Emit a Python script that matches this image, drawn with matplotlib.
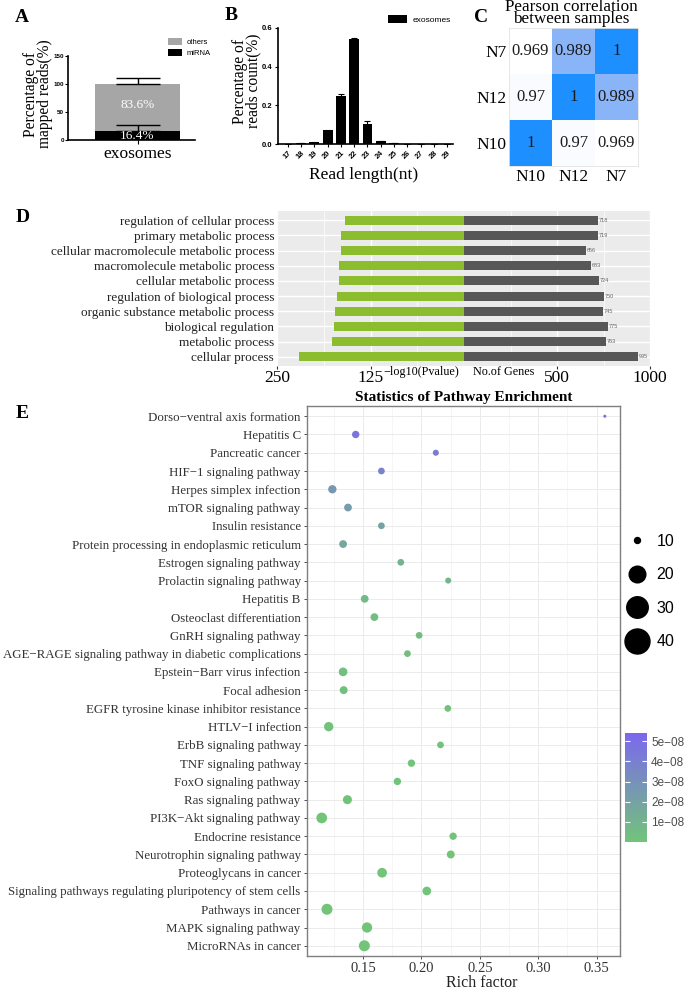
import numpy as np
import matplotlib
matplotlib.use("Agg")
import matplotlib.pyplot as plt
from matplotlib.colors import LinearSegmentedColormap
from matplotlib.lines import Line2D

SERIF = ['Liberation Serif', 'DejaVu Serif']
SANS = ['Liberation Sans', 'DejaVu Sans']

# ---- A: mapped reads
mapped_types = ['miRNA', 'others']
mapped_pct = [16.4, 83.6]
mapped_err = [10.4, 11.0]

# ---- B: read length distribution
read_len = list(range(17, 30))
read_pct = [0.002, 0.005, 0.008, 0.070, 0.250, 0.545, 0.105, 0.015, 0.003,
            0.001, 0.001, 0.0005, 0.0005]
read_err = [0, 0, 0.001, 0.005, 0.010, 0.003, 0.013, 0.002, 0, 0, 0, 0, 0]

# ---- C: pearson correlation
samples = ['N10', 'N12', 'N7']
corr = [[1, 0.97, 0.969],
        [0.97, 1, 0.989],
        [0.969, 0.989, 1]]

# ---- D: GO terms
go_terms = ['regulation of cellular process', 'primary metabolic process',
            'cellular macromolecule metabolic process', 'macromolecule metabolic process',
            'cellular metabolic process', 'regulation of biological process',
            'organic substance metabolic process', 'biological regulation',
            'metabolic process', 'cellular process']
go_logp = [159, 164, 164, 167, 167, 170, 172, 174, 177, 220]
go_genes = [718, 719, 656, 683, 724, 750, 745, 775, 763, 935]

# ---- E: KEGG enrichment
pathways = ['Dorso\u2212ventral axis formation', 'Hepatitis C', 'Pancreatic cancer',
            'HIF\u22121 signaling pathway', 'Herpes simplex infection', 'mTOR signaling pathway',
            'Insulin resistance', 'Protein processing in endoplasmic reticulum',
            'Estrogen signaling pathway', 'Prolactin signaling pathway', 'Hepatitis B',
            'Osteoclast differentiation', 'GnRH signaling pathway',
            'AGE\u2212RAGE signaling pathway in diabetic complications',
            'Epstein\u2212Barr virus infection', 'Focal adhesion',
            'EGFR tyrosine kinase inhibitor resistance', 'HTLV\u2212I infection',
            'ErbB signaling pathway', 'TNF signaling pathway', 'FoxO signaling pathway',
            'Ras signaling pathway', 'PI3K\u2212Akt signaling pathway', 'Endocrine resistance',
            'Neurotrophin signaling pathway', 'Proteoglycans in cancer',
            'Signaling pathways regulating pluripotency of stem cells', 'Pathways in cancer',
            'MAPK signaling pathway', 'MicroRNAs in cancer']
rich = [0.357, 0.1437, 0.2123, 0.1657, 0.1237, 0.1371, 0.1657, 0.1329, 0.1823, 0.2229,
        0.1514, 0.1597, 0.198, 0.188, 0.1329, 0.1334, 0.2226, 0.1206, 0.2163, 0.1914,
        0.1794, 0.1366, 0.1146, 0.2271, 0.2251, 0.1663, 0.2046, 0.1191, 0.1534, 0.1511]
gene_num = [3, 18, 12, 15, 23, 20, 15, 20, 15, 12, 20, 20, 15, 15, 25, 21, 15, 29, 15, 18,
            18, 27, 38, 18, 21, 31, 25, 40, 35, 40]
pvals = [5.4e-08, 4.6e-08, 4.2e-08, 3.9e-08, 2.6e-08, 2.3e-08, 2.0e-08, 1.7e-08, 1.1e-08,
         8.5e-09, 6e-09, 5e-09, 4.5e-09, 4e-09, 3e-09, 2.5e-09, 2e-09, 1.5e-09, 1.2e-09,
         1e-09, 8e-10, 6e-10, 4e-10, 3e-10, 2.5e-10, 2e-10, 1.5e-10, 1.2e-10, 1e-10, 1e-10]
size_breaks = [10, 20, 30, 40]
cbar_ticks = [1e-08, 2e-08, 3e-08, 4e-08, 5e-08]

W, H = 684, 991
fig = plt.figure(figsize=(W / 100, H / 100), dpi=100)


def px_axes(l, t, r, b):
    return fig.add_axes([l / W, 1 - b / H, (r - l) / W, (b - t) / H])


def ftext(x, y, s, **kw):
    kw.setdefault('ha', 'center')
    kw.setdefault('va', 'center')
    return fig.text(x / W, 1 - y / H, s, **kw)


# panel letters
for lab, x, y in [('A', 22, 17), ('B', 231, 15), ('C', 481, 17), ('D', 23, 217), ('E', 22, 414)]:
    ftext(x, y, lab, family=SERIF, fontsize=14, fontweight='bold')

# ================= A
axA = px_axes(68, 56, 195, 140)
colsA = ['black', '#a6a6a6']
bottom = 0
tops = []
for name, v, c in zip(mapped_types, mapped_pct, colsA):
    axA.bar(0, v, bottom=bottom, width=0.8, color=c, label=name, zorder=2)
    frac = 0.45 if name == 'miRNA' else 0.55
    axA.text(0, bottom + v * frac, f'{v}%', ha='center', va='center', color='white',
             family=SERIF, fontsize=9.5, zorder=4)
    bottom += v
    tops.append(bottom)
axA.errorbar([0, 0], tops, yerr=[[0, 0], mapped_err], fmt='none', ecolor='black',
             elinewidth=1, capsize=16, capthick=1, zorder=3)
axA.set_xlim(-0.654, 0.541)
axA.set_ylim(0, 150)
axA.set_yticks([0, 50, 100, 150])
axA.set_xticks([0])
axA.set_xticklabels(['exosomes'], family=SERIF, fontsize=12.5)
for t in axA.get_yticklabels():
    t.set_fontsize(4.5)
    t.set_fontweight('bold')
    t.set_family(SANS)
axA.tick_params(axis='y', length=2, width=0.8, pad=1)
axA.tick_params(axis='x', length=3, width=0.8, pad=1)
for s in ['top', 'right']:
    axA.spines[s].set_visible(False)
for s in ['left', 'bottom']:
    axA.spines[s].set_linewidth(1.2)
hA, lA = axA.get_legend_handles_labels()
axA.legend(hA[::-1], lA[::-1], loc='upper left', bbox_to_anchor=(168 / W, 1 - 38 / H),
           bbox_transform=fig.transFigure, frameon=False, prop={'family': SANS, 'size': 5.5},
           handlelength=1.8, handleheight=1.0, handletextpad=0.6, labelspacing=0.4,
           borderpad=0, borderaxespad=0)
ftext(38, 94, 'Percentage of\nmapped reads(%)', rotation=90, family=SERIF, fontsize=11.2,
      linespacing=0.78)

# ================= B
axB = px_axes(278, 28, 453, 144)
axB.bar(read_len, read_pct, width=0.75, color='black', yerr=read_err, capsize=2.2,
        error_kw=dict(elinewidth=0.8, capthick=0.8), label='exosomes')
axB.set_xlim(16.25, 29.45)
axB.set_ylim(0, 0.6)
axB.set_yticks([0, 0.2, 0.4, 0.6])
axB.set_yticklabels(['0.0', '0.2', '0.4', '0.6'])
axB.set_xticks(read_len)
axB.set_xticklabels([str(v) for v in read_len], rotation=45, ha='right', rotation_mode='anchor')
for t in axB.get_xticklabels() + axB.get_yticklabels():
    t.set_fontsize(5.5)
    t.set_fontweight('bold')
    t.set_family(SANS)
axB.tick_params(length=2.5, width=0.8, pad=1.5)
for s in ['top', 'right']:
    axB.spines[s].set_visible(False)
for s in ['left', 'bottom']:
    axB.spines[s].set_linewidth(1.2)
axB.legend(loc='upper left', bbox_to_anchor=(388 / W, 1 - 15 / H), bbox_transform=fig.transFigure,
           frameon=False, prop={'family': SANS, 'size': 6}, handlelength=2.3, handleheight=1.1,
           handletextpad=0.6, borderpad=0, borderaxespad=0)
ftext(247, 81, 'Percentage of\nreads count(%)', rotation=90, family=SERIF, fontsize=11.2,
      linespacing=0.78)
ftext(364, 175, 'Read length(nt)', family=SERIF, fontsize=12.5)

# ================= C
axC = px_axes(509, 28, 638, 166)
cmapC = LinearSegmentedColormap.from_list(
    'wb', [(0, '#ffffff'), (0.65, '#8ab4f8'), (1, '#1e8fff')])
cvals = np.array(corr)
axC.imshow(cvals, cmap=cmapC, vmin=cvals.min(), vmax=cvals.max(), origin='lower', aspect='auto')
for i in range(len(samples)):
    for j in range(len(samples)):
        axC.text(j, i, f'{corr[i][j]:g}', ha='center', va='center', family=SERIF,
                 fontsize=12, color='#1a1a1a')
axC.set_xticks(range(len(samples)))
axC.set_yticks(range(len(samples)))
axC.set_xticklabels(samples, family=SERIF, fontsize=12.5)
axC.set_yticklabels(samples, family=SERIF, fontsize=12.5)
axC.tick_params(length=0, pad=2)
for s in axC.spines.values():
    s.set_color('#e3e3e3')
    s.set_linewidth(0.6)
ftext(571, 13, 'Pearson correlation\nbetween samples', family=SERIF, fontsize=12.3,
      linespacing=0.72)

# ================= D
axDl = px_axes(277, 211, 464, 366)
axDr = px_axes(464, 211, 650, 366)
yD = np.arange(len(go_terms))
axDl.barh(yD, go_logp, height=0.6, color='#8bbd2e', zorder=2)
axDr.barh(yD, go_genes, height=0.6, color='#575757', zorder=2)
for yy, v in zip(yD, go_genes):
    axDr.text(v + 4, yy, str(v), ha='left', va='center', family=SANS, fontsize=4,
              color='#666666', zorder=3)
axDl.set_xlim(250, 0)
axDr.set_xlim(0, 1000)
axDl.set_xticks([250, 125])
axDl.set_xticks([187.5, 62.5], minor=True)
axDr.set_xticks([500, 1000])
axDr.set_xticks([250, 750], minor=True)
axDl.set_xticklabels(['250', '125'])
axDr.set_xticklabels(['500', '1000'])
for ax in (axDl, axDr):
    ax.set_facecolor('#ebebeb')
    ax.set_ylim(len(go_terms) - 0.4, -0.6)
    ax.set_yticks(yD)
    ax.set_axisbelow(True)
    ax.grid(which='major', color='white', linewidth=1.0)
    ax.grid(which='minor', axis='x', color='white', linewidth=0.5)
    for s in ax.spines.values():
        s.set_visible(False)
    ax.tick_params(axis='x', which='major', length=2, color='#333333', pad=1)
    ax.tick_params(axis='x', which='minor', length=0)
    ax.tick_params(axis='y', length=0, pad=2)
    for t in ax.get_xticklabels():
        t.set_family(SERIF)
        t.set_fontsize(12.5)
axDl.axvline(0, color='white', linewidth=1.0, zorder=1)
axDl.set_yticklabels(go_terms, family=SERIF, fontsize=9.5, color='#222222')
axDr.set_yticklabels([])
ftext(421, 372, '\u2212log10(Pvalue)', family=SERIF, fontsize=8.7)
ftext(504, 372, 'No.of Genes', family=SERIF, fontsize=8.7)

# ================= E
axE = px_axes(307, 406, 620, 956)
yE = np.arange(len(pathways))
cmapE = LinearSegmentedColormap.from_list('gp', ['#72c479', '#7b68ee'])
sc = axE.scatter(rich, yE, s=np.array(gene_num) * 1.57, c=pvals, cmap=cmapE,
                 vmin=min(pvals), vmax=max(pvals), linewidths=0, zorder=3)
axE.set_xlim(0.102, 0.370)
axE.set_ylim(len(pathways) - 0.44, -0.56)
axE.set_xticks([0.15, 0.20, 0.25, 0.30, 0.35])
axE.set_xticklabels(['0.15', '0.20', '0.25', '0.30', '0.35'], family=SERIF, fontsize=10.5,
                    color='#333333')
axE.set_xticks([0.125, 0.175, 0.225, 0.275, 0.325], minor=True)
axE.set_yticks(yE)
axE.set_yticklabels(pathways, family=SERIF, fontsize=9.3, color='#333333')
axE.set_axisbelow(True)
axE.grid(which='major', color='#ebebeb', linewidth=0.7)
axE.grid(which='minor', axis='x', color='#f2f2f2', linewidth=0.5)
axE.tick_params(which='major', length=2.5, width=0.6, color='#333333', pad=2)
axE.tick_params(which='minor', length=0)
for s in axE.spines.values():
    s.set_color('#7f7f7f')
    s.set_linewidth(1.0)
ftext(464, 397, 'Statistics of Pathway Enrichment', family=SERIF, fontsize=11, fontweight='bold')
ftext(482, 983, 'Rich factor', family=SERIF, fontsize=11.5, color='#222222')

# size legend
legend_ms = [4.3, 12, 15.5, 18]
handles = [Line2D([], [], marker='o', linestyle='', color='black', markersize=m)
           for m in legend_ms]
fig.legend(handles, [str(b) for b in size_breaks], loc='upper left',
           bbox_to_anchor=(624 / W, 1 - 534 / H), frameon=False,
           prop={'family': SANS, 'size': 11.5}, handlelength=1.6, handletextpad=0.45,
           labelspacing=1.15, borderpad=0, borderaxespad=0)

# colour bar
cax = px_axes(625, 733, 647, 842)
cb = fig.colorbar(sc, cax=cax)
cb.outline.set_visible(False)
cb.set_ticks(cbar_ticks)
cb.set_ticklabels([f'{t:.0e}'.replace('-', '\u2212') for t in cbar_ticks])
cax.tick_params(labelsize=8.5, labelcolor='#4d4d4d', color='white', length=3.5, width=0.8,
                direction='in', left=True, right=True, pad=3)
for t in cax.get_yticklabels():
    t.set_family(SANS)

fig.savefig('out.png', dpi=100)
